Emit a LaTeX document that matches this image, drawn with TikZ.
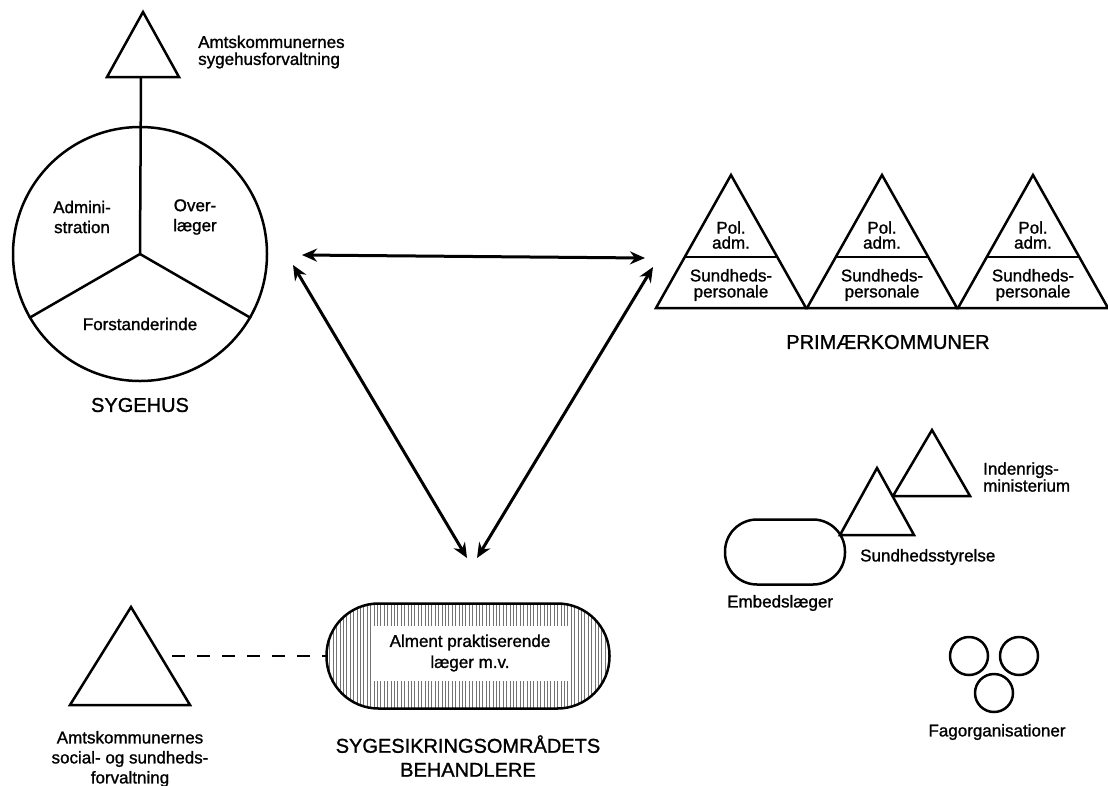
\documentclass[tikz,border=0pt]{standalone}
\usepackage{fontspec}
\setmainfont{Liberation Sans}[FakeBold=1.2]
\usetikzlibrary{arrows.meta, patterns.meta}
\tikzstyle{arrow} = [<->,>={Stealth[length=15pt,width=13pt]},line width=3pt]
\tikzstyle{outline} = [draw=black, line width=2.5pt]
\tikzstyle{txt} = [font=\fontsize{17}{17}\selectfont, align=center, inner sep=0pt]
\tikzstyle{heading} = [font=\fontsize{20}{24}\selectfont, align=center, inner sep=0pt]
\tikzstyle{pill} = [rectangle, outline, minimum width=283pt, minimum height=105pt, rounded corners=52pt]

\begin{document}
\begin{tikzpicture}[x=1pt, y=-1pt]
    \fill [white] (0,0) rectangle (1108,785);
    \useasboundingbox (0,0) rectangle (1108,785);

    % sygehus
    \node (sygehus) [circle, outline, minimum size=254pt, inner sep=0pt] at (140,254) {};
    \coordinate (amtsyg) at (141,77);
    \draw [outline] (amtsyg) -- (sygehus.center);
    \draw [outline] (sygehus.center) -- (sygehus.210);
    \draw [outline] (sygehus.center) -- (sygehus.330);
    \draw [outline, fill=white] (143,12) -- (179,77) -- (107,77) -- cycle;
    \node (amtsygtxt) [txt, anchor=west, align=left] at (198,52) {Amtskommunernes\\sygehusforvaltning};
    \node (admin) [txt, font=\fontsize{17}{20}\selectfont] at (82,217) {Admini-\\stration};
    \node (overl) [txt, font=\fontsize{17}{20}\selectfont] at (195,217) {Over-\\læger};
    \node (forst) [txt] at (140,324) {Forstanderinde};
    \node (sygtxt) [heading] at (140,405) {SYGEHUS};

    % primaerkommuner
    \foreach \x [count=\i] in {731,882,1033} {
      \draw [outline, line join=miter] (\x,175) -- (\x+75,308) -- (\x-75,308) -- cycle;
      \draw [outline] (\x-46,257) -- (\x+46,257);
      \node (pol\i) [txt, font=\fontsize{17}{15}\selectfont] at (\x,235) {Pol.\\adm.};
      \node (sund\i) [txt, font=\fontsize{17}{16}\selectfont] at (\x,285) {Sundheds-\\personale};
    }
    \node (pktxt) [heading] at (888,342) {PRIMÆRKOMMUNER};

    % statslige organer
    \draw [outline, fill=white] (932,430) -- (970,496) -- (893,496) -- cycle;
    \draw [outline, fill=white] (877,468) -- (914,535) -- (840,535) -- cycle;
    \node (embl) [rectangle, outline, minimum width=120pt, minimum height=65pt, rounded corners=32pt] at (785,552) {};
    \node (indtxt) [txt, anchor=west, align=left] at (983,477) {Indenrigs-\\ministerium};
    \node (sstxt) [txt, anchor=west] at (860,557) {Sundhedsstyrelse};
    \node (embtxt) [txt, anchor=west] at (727,603) {Embedslæger};

    % fagorganisationer
    \node (fag1) [circle, outline, minimum size=38pt] at (969,656) {};
    \node (fag2) [circle, outline, minimum size=38pt] at (1019,656) {};
    \node (fag3) [circle, outline, minimum size=38pt] at (994,693) {};
    \node (fagtxt) [txt] at (997,732) {Fagorganisationer};

    % sygesikring
    \node (behandl) [pill, pattern={Lines[angle=90,distance=3.4pt,line width=0.9pt]}, pattern color=black!55] at (468,656) {};
    \node (alment) [txt, fill=white, minimum width=195pt, minimum height=55pt, font=\fontsize{17}{21}\selectfont] at (470,653) {Alment praktiserende\\læger m.v.};
    \node (behtxt) [heading] at (468,756) {SYGESIKRINGSOMRÅDETS\\BEHANDLERE};

    \draw [outline, fill=white] (131,607) -- (190,705) -- (70,705) -- cycle;
    \coordinate (sosu) at (172,656);
    \draw [outline, dash pattern=on 13pt off 12pt] (sosu) -- (behandl.west);
    \node (sosutxt) [txt, font=\fontsize{17}{20}\selectfont] at (130,759) {Amtskommunernes\\social- og sundheds-\\forvaltning};

    % forbindelser
    \coordinate (hs) at (302,255);
    \coordinate (hp) at (645,258);
    \coordinate (ds) at (293,265);
    \coordinate (dp) at (653,267);
    \coordinate (bs) at (467,558);
    \coordinate (bp) at (477,558);
    \draw [arrow] (hs) -- (hp);
    \draw [arrow] (ds) -- (bs);
    \draw [arrow] (dp) -- (bp);
\end{tikzpicture}
\end{document}
